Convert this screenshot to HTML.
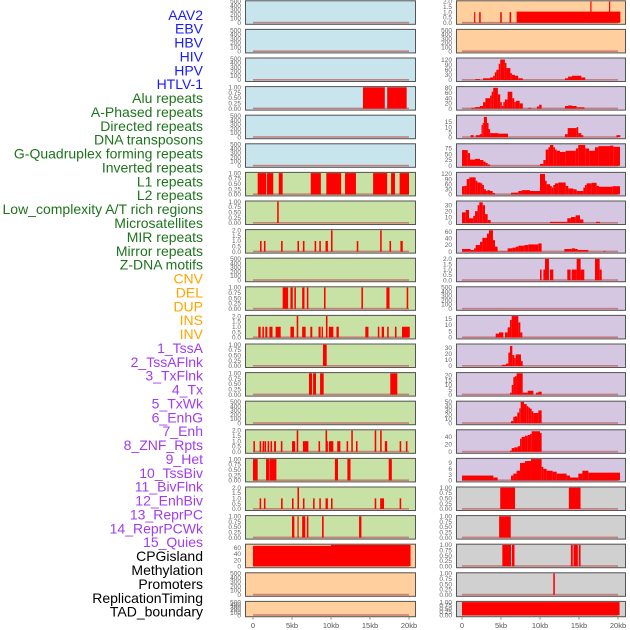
<!DOCTYPE html>
<html><head><meta charset="utf-8"><style>
html,body{margin:0;padding:0;background:#fff;}
svg{display:block;font-family:"Liberation Sans",sans-serif;}
</style></head><body>
<svg id="chart" width="630" height="630" viewBox="0 0 630 630" xmlns="http://www.w3.org/2000/svg"></svg>
<script>
const trackLabels = ["AAV2","EBV","HBV","HIV","HPV","HTLV-1","Alu repeats","A-Phased repeats","Directed repeats","DNA transposons","G-Quadruplex forming repeats","Inverted repeats","L1 repeats","L2 repeats","Low_complexity A/T rich regions","Microsatellites","MIR repeats","Mirror repeats","Z-DNA motifs","CNV","DEL","DUP","INS","INV","1_TssA","2_TssAFlnk","3_TxFlnk","4_Tx","5_TxWk","6_EnhG","7_Enh","8_ZNF_Rpts","9_Het","10_TssBiv","11_BivFlnk","12_EnhBiv","13_ReprPC","14_ReprPCWk","15_Quies","CPGisland","Methylation","Promoters","ReplicationTiming","TAD_boundary"];
const labelGroups = ["v","v","v","v","v","v","r","r","r","r","r","r","r","r","r","r","r","r","r","s","s","s","s","s","c","c","c","c","c","c","c","c","c","c","c","c","c","c","c","o","o","o","o","o"];
const xTicks = [0,5,10,15,20];
const xTickLabels = ["0","5kb","10kb","15kb","20kb"];
const T01 = {max:1, ticks:[0,0.25,0.5,0.75,1], fmt:2};
const T02 = {max:2, ticks:[0,0.5,1,1.5,2], fmt:1};
const T500 = {max:500, ticks:[0,100,200,300,400,500], fmt:0};
const leftAxes = [T500,T500,T500,T01,T500,T500,T01,T01,T02,T500,T01,T02,T01,T01,T500,T02,T01,T02,T01,{max:70,ticks:[0,20,40,60],fmt:0},T500,T500];
const leftBg = ["b","b","b","b","b","b","g","g","g","g","g","g","g","g","g","g","g","g","g","p","p","p"];
const leftData = [
 [],[],[],
 [[14.1,16.9,1],[17.2,19.7,1]],
 [],[],
 [[0.6,1.7,1],[1.8,2.6,1],[3.3,3.8,1],[7.4,8.7,1],[9.4,11.3,1],[11.8,13.2,1],[15.4,17.2,1],[17.7,18.2,1],[18.8,20.0,1]],
 [[3.1,3.3,1]],
 [[0.9,1.1,1],[1.4,1.6,1],[3.6,3.8,1],[5.7,5.9,1],[6.4,6.6,1],[7.9,8.1,1],[8.5,8.7,1],[9.3,9.6,1],[10.0,10.2,2],[13.3,13.5,1],[16.3,16.5,2],[17.5,17.7,1],[18.9,19.2,1]],
 [],
 [[3.8,4.5,1],[4.8,5.1,1],[5.3,5.5,1],[6.3,6.6,1],[6.9,7.1,1],[9.1,9.3,1],[13.9,14.1,1],[17.1,17.5,1],[19.7,19.9,1]],
 [[0.68,0.98,1],[1.2,1.4,1],[1.58,1.84,1],[2.1,2.5,1],[2.9,3.55,1],[4.8,5.25,1],[5.6,5.8,2],[6.3,6.75,1],[7.35,7.6,1],[8.4,8.67,1],[8.8,8.97,1],[9.35,9.55,2],[9.74,10.3,1],[10.7,11.0,1],[14.4,14.8,1],[16.0,16.2,1],[16.5,16.8,1],[17.2,17.4,1],[18.2,18.4,1],[19.1,20.1,1]],
 [[8.97,9.45,1]],
 [[7.18,7.57,1],[7.7,8.08,1],[8.6,9.06,1],[17.6,18.5,1]],
 [],
 [[0.05,0.25,1],[0.85,1.05,1],[1.23,1.43,1],[1.48,1.68,1],[1.87,2.07,1],[2.25,2.45,1],[2.7,2.95,1],[3.57,3.77,1],[5.0,5.4,1],[5.6,5.8,2],[6.4,7.1,1],[8.4,8.6,1],[9.3,9.6,1],[9.3,9.5,2],[9.74,10.3,1],[10.8,11.2,1],[12.0,12.2,1],[12.6,12.8,2],[13.2,13.4,1],[15.6,15.8,2],[16.3,16.5,2],[16.9,17.2,1],[18.8,19.0,1],[19.6,19.8,1]],
 [[0,0.6,1],[1.67,2.05,1],[2.1,3.0,1],[10.5,10.9,1],[12.1,12.5,1],[17.4,17.8,1]],
 [[0.85,1.05,1],[1.4,1.6,1],[3.6,3.8,1],[5.0,5.2,1],[5.7,5.9,2],[6.4,6.6,1],[7.7,7.9,1],[8.5,8.7,1],[9.3,9.6,1],[10.0,10.2,1],[15.6,15.8,1],[16.3,16.8,1],[18.8,19.0,1]],
 [[5.0,5.3,1],[5.7,5.85,1],[6.3,6.7,1],[6.9,7.1,1],[8.85,9.06,1],[13.6,13.9,1]],
 [[0,10,67],[10,20.2,70]],
 [],[]
];
const rightAxes = [T02,T500,{max:125,ticks:[0,30,60,90,120],fmt:0},{max:82,ticks:[0,20,40,60,80],fmt:0},{max:21,ticks:[0,5,10,15],fmt:0},{max:92,ticks:[0,25,50,75],fmt:0},{max:125,ticks:[0,30,60,90,120],fmt:0},{max:36,ticks:[0,10,20,30],fmt:0},{max:65,ticks:[0,20,40,60],fmt:0},T02,T500,{max:17,ticks:[0,5,10,15],fmt:0},{max:35,ticks:[0,10,20,30],fmt:0},{max:22,ticks:[0,5,10,15,20],fmt:0},{max:50,ticks:[0,10,20,30,40,50],fmt:0},{max:57,ticks:[0,20,40],fmt:0},{max:11,ticks:[0,3,6,9],fmt:0},T01,T01,T01,T01,T01];
const rightBg = ["p","p","l","l","l","l","l","l","l","l","l","l","l","l","l","l","l","y","y","y","y","y"];
const rightData = [
 [[1.55,1.7,1],[2.2,2.4,1],[4.9,5.1,1],[6.1,6.3,1],[7.0,20.3,1.05],[16.45,16.6,2],[18.85,19.0,2]],
 [],
 [[1.7,2.3,5],[2.7,3.6,10],[3.6,4.0,15],[4.0,4.2,25],[4.2,4.4,45],[4.4,4.7,60],[4.7,4.9,95],[4.9,5.5,120],[5.5,5.7,100],[5.7,6.2,70],[6.2,6.4,40],[6.4,6.8,30],[6.8,7.2,25],[7.2,7.8,10],[13.2,13.6,10],[13.6,14.1,20],[14.1,15.3,25],[15.3,15.8,15]],
 [[1.2,1.7,3],[1.7,2.3,6],[2.3,2.7,10],[2.7,3.0,25],[3.0,3.6,40],[3.6,3.8,50],[3.8,4.0,65],[4.0,4.6,80],[4.6,4.9,55],[4.9,5.1,25],[5.1,5.3,10],[5.3,5.5,25],[5.5,5.85,35],[5.85,6.45,65],[6.45,6.7,40],[6.7,6.9,25],[6.9,7.4,30],[7.4,7.8,20],[8.5,8.9,3],[9.6,9.9,8],[9.9,10.2,15],[13.2,13.6,10],[13.6,14.1,12],[14.1,14.7,10],[14.7,15.7,5]],
 [[1.1,1.5,2],[1.75,2.3,2],[2.3,2.5,3],[2.5,2.65,12],[2.65,2.8,14],[2.8,3.2,20],[3.2,3.4,14],[3.4,3.6,8],[3.6,4.7,4],[4.7,5.9,3.5],[13.2,13.55,3],[13.55,14.7,9],[14.7,14.9,10],[14.9,15.3,4],[15.3,15.55,2],[19.8,20.3,2]],
 [[0,0.73,68],[0.73,1.03,55],[1.03,1.67,27],[1.67,2.31,30],[2.31,2.74,25],[2.74,3.03,18],[3.03,3.29,12],[3.29,3.59,6],[10.0,10.43,8],[10.43,10.73,25],[10.73,11.07,70],[11.07,11.28,80],[11.28,11.71,90],[11.71,11.92,80],[11.92,12.14,70],[12.14,12.56,65],[12.56,13.29,60],[13.29,14.6,65],[14.6,14.9,75],[14.9,15.8,90],[15.8,16.3,75],[16.3,17.05,65],[17.05,17.48,80],[17.48,18.97,85],[18.97,19.4,87],[19.4,20.26,82]],
 [[0,0.3,48],[0.3,0.6,50],[0.6,0.94,90],[0.94,1.75,100],[1.75,1.97,80],[1.97,2.39,70],[2.39,2.61,65],[2.61,2.82,55],[2.82,3.08,30],[3.08,3.25,20],[3.25,3.59,25],[3.59,3.93,20],[3.93,4.23,8],[6.28,7.22,10],[7.22,7.65,20],[7.65,8.72,25],[8.72,10.0,20],[10.0,10.64,120],[10.64,10.85,80],[10.85,11.28,60],[11.28,11.5,50],[11.5,11.71,40],[11.71,11.92,55],[11.92,12.35,65],[12.35,13.29,70],[13.29,13.63,50],[13.63,14.27,35],[14.27,14.7,30],[14.7,15.56,20],[15.56,15.77,40],[15.77,15.98,55],[15.98,16.62,65],[16.62,17.26,68],[17.26,17.56,50],[17.56,19.27,45],[19.27,20.26,48]],
 [[0,0.47,18],[0.47,0.9,22],[0.9,1.45,8],[1.45,1.67,12],[1.67,2.0,20],[2.0,2.22,30],[2.22,2.65,35],[2.65,2.95,30],[2.95,3.29,15],[3.29,3.68,5],[11.28,13.5,2],[13.5,13.97,8],[13.97,14.57,10],[14.57,15.13,13],[15.13,15.56,6],[17.18,17.69,2]],
 [[0,1.11,8],[1.11,1.54,5],[1.54,1.75,10],[1.75,2.31,20],[2.31,2.61,30],[2.61,3.2,42],[3.2,3.46,55],[3.46,3.97,65],[3.97,4.23,35],[4.23,4.57,15],[4.57,5.85,1],[5.85,6.45,10],[6.45,6.88,12],[6.88,7.22,15],[7.22,7.99,18],[7.99,8.5,20],[8.5,9.79,22],[9.79,10.21,25],[13.12,14.06,8],[14.06,14.49,10],[14.49,14.83,8],[14.83,16.2,5],[18.12,18.42,2]],
 [[10.0,10.21,1],[10.43,10.64,1],[10.64,11.15,2],[11.28,11.71,1],[13.5,13.93,1],[14.06,14.7,1],[14.7,15.21,2],[15.21,15.68,1],[17.05,17.65,2],[17.65,17.91,1]],
 [],
 [[4.32,4.74,3],[4.74,5.3,4],[5.51,5.85,4],[5.85,6.15,8],[6.15,6.37,14],[6.37,7.22,17],[7.22,7.48,12],[7.48,7.74,4]],
 [[5.09,5.64,2],[5.64,5.94,4],[5.94,6.15,22],[6.15,6.45,33],[6.45,6.71,18],[6.71,6.88,13],[6.88,7.56,19],[7.56,7.78,8]],
 [[6.15,6.37,2],[6.37,6.58,10],[6.58,6.79,18],[6.79,7.0,19],[7.0,7.78,22],[7.78,8.42,2],[8.42,9.15,4],[9.49,9.79,2],[9.79,10.21,3]],
 [[6.28,6.58,5],[6.58,6.79,15],[6.79,7.09,16],[7.09,7.35,25],[7.35,7.52,35],[7.52,7.95,50],[7.95,8.29,45],[8.29,8.5,40],[8.5,8.72,37],[8.72,8.93,34],[8.93,9.15,28],[9.15,9.79,24],[9.79,10.21,30]],
 [[6.15,6.37,3],[6.37,6.71,10],[6.71,7.14,12],[7.14,7.44,15],[7.44,7.65,35],[7.65,8.08,40],[8.08,8.42,43],[8.42,8.72,45],[8.72,8.93,48],[8.93,10.0,55],[10.0,10.21,50]],
 [[0,4.02,2.5],[4.02,4.57,1.5],[6.28,6.58,2.5],[6.58,7.0,3.5],[7.0,7.44,5],[7.44,8.08,9],[8.08,8.85,10],[8.85,10.21,11],[10.21,10.43,7],[10.43,10.85,6],[10.85,11.62,5],[11.62,12.14,4.5],[12.14,13.42,3.5],[13.42,13.85,2.5],[13.85,14.91,1.5],[14.91,15.43,3.5],[15.43,16.2,5],[16.2,20.26,4]],
 [[4.9,6.8,1],[13.7,15.2,1]],
 [[4.76,6.25,1]],
 [[5.17,6.28,1],[6.4,6.73,1],[13.96,14.2,1],[14.3,14.85,1],[14.98,15.2,1]],
 [[11.7,11.9,1]],
 [[0,20.2,1]]
];

const NS = "http://www.w3.org/2000/svg";
const svg = document.getElementById("chart");
const bgColors = {b:"#c8e4ec", g:"#c8e1a5", p:"#ffd09e", l:"#d5c7e2", y:"#d0d0d0"};
const labelColors = {v:"#1a1aff", r:"#1d741d", s:"#ffa500", c:"#a03cf0", o:"#000000"};
function mk(tag, attrs, parent){ const e=document.createElementNS(NS,tag); for(const k in attrs) e.setAttribute(k, attrs[k]); (parent||svg).appendChild(e); return e; }
function rowTop(i){ return 0.3 + 28.6*i; }
function rowH(i){ return i===21 ? 16.3 : 24.5; }
function xScale(col, kb){ return (col===0 ? 253 : 462) + kb*7.8; }

trackLabels.forEach((t,i)=>{
  const e = mk("text",{x:203, y:(19.8+13.88*i).toFixed(1), "text-anchor":"end", "font-size":"14", fill:labelColors[labelGroups[i]]});
  e.textContent = t;
  
  
});

function drawPanel(col, i, axis, bg, segs){
  const g = mk("g",{});
  
  
  const x0 = col===0 ? 245 : 456, w = col===0 ? 171 : 170;
  const top = rowTop(i), h = rowH(i);
  mk("rect",{x:x0, y:top, width:w, height:h, fill:bgColors[bg]}, g);
  const yBase = top + h - 2, yTop = top + 1.2;
  const ys = v => yBase - (v/axis.max)*(yBase-yTop);
  axis.ticks.forEach(t=>{
    const tx = mk("text",{x:col===0?241:452, y:(ys(t)+2.2).toFixed(1), "text-anchor":"end", "font-size":"6.5", fill:"#666"}, g);
    tx.textContent = axis.fmt===0 ? String(t) : t.toFixed(axis.fmt);
    
    
  });
  mk("rect",{x:xScale(col,0), y:yBase-1, width:xScale(col,20)-xScale(col,0), height:1.6, fill:"#c06a6a", opacity:"0.8"}, g);
  segs.forEach(s=>{
    const xa = xScale(col,s[0]), xb = xScale(col,s[1]);
    const r = mk("rect",{x:xa.toFixed(2), y:ys(s[2]).toFixed(2), width:Math.max(1.2,xb-xa).toFixed(2), height:(yBase-ys(s[2])).toFixed(2), fill:"#ff0000"}, g);
    
    
  });
  mk("rect",{x:x0+0.5, y:top+0.5, width:w-1, height:h-1, fill:"none", stroke:"#555", "stroke-width":"1"}, g);
}
for(let i=0;i<22;i++){
  drawPanel(0, i, leftAxes[i], leftBg[i], leftData[i]);
  drawPanel(1, i, rightAxes[i], rightBg[i], rightData[i]);
}
[0,1].forEach(col=>{
  xTicks.forEach((t,k)=>{
    const x = xScale(col,t);
    mk("line",{x1:x, x2:x, y1:617.5, y2:619.5, stroke:"#666", "stroke-width":"0.8"});
    const e = mk("text",{x:x, y:628, "text-anchor":"middle", "font-size":"7.5", fill:"#555"});
    e.textContent = xTickLabels[k];
    
    
  });
});
</script>
</body></html>
